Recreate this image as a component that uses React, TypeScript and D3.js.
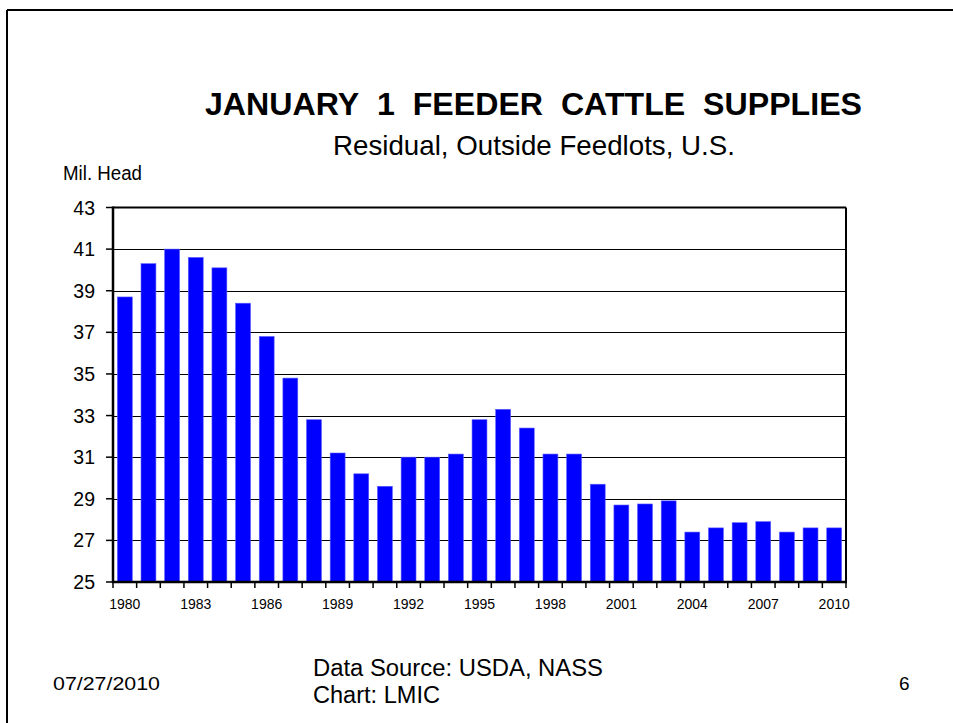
import React from "react";
import * as d3 from "d3";

const years: number[] = [
  1980, 1981, 1982, 1983, 1984, 1985, 1986, 1987, 1988, 1989, 1990,
  1991, 1992, 1993, 1994, 1995, 1996, 1997, 1998, 1999, 2000,
  2001, 2002, 2003, 2004, 2005, 2006, 2007, 2008, 2009, 2010,
];
const supplies: number[] = [
  38.7, 40.3, 41.0, 40.6, 40.1, 38.4, 36.8, 34.8, 32.8, 31.2, 30.2,
  29.6, 31.0, 31.0, 31.15, 32.8, 33.3, 32.4, 31.15, 31.15, 29.7,
  28.7, 28.75, 28.9, 27.4, 27.6, 27.85, 27.9, 27.4, 27.6, 27.6,
];
const yTicks: number[] = [25, 27, 29, 31, 33, 35, 37, 39, 41, 43];
const xLabelYears: number[] = [1980, 1983, 1986, 1989, 1992, 1995, 1998, 2001, 2004, 2007, 2010];

const title = "JANUARY\u00a0\u00a01\u00a0\u00a0FEEDER\u00a0\u00a0CATTLE\u00a0\u00a0SUPPLIES";
const subtitle = "Residual, Outside Feedlots, U.S.";
const yLabel = "Mil. Head";
const dateText = "07/27/2010";
const sourceLines = ["Data Source: USDA, NASS", "Chart: LMIC"];
const pageNum = "6";

const W = 953;
const H = 723;
const left = 113;
const right = 846;
const top = 207.5;
const bottom = 582;
const font = "Liberation Sans, Arial, sans-serif";

export default function App() {
  const x = d3
    .scaleBand<number>()
    .domain(years)
    .range([left, right])
    .paddingInner(0.37)
    .paddingOuter(0.185);
  const y = d3.scaleLinear().domain([25, 43]).range([bottom, top]);
  const step = x.step();
  const x0 = (x(years[0]) as number) - step * 0.185;
  const boundaries = d3.range(years.length + 1).map((i) => x0 + i * step);

  return (
    <svg
      width={W}
      height={H}
      style={{ position: "absolute", left: 0, top: 0, background: "#fff" }}
      fontFamily={font}
    >
      <rect x={0} y={0} width={W} height={H} fill="#fff" />
      {/* slide frame */}
      <line x1={7} y1={10} x2={W} y2={10} stroke="#000" strokeWidth={2} />
      <line x1={7} y1={10} x2={7} y2={H} stroke="#000" strokeWidth={2} />

      <text x={205} y={115} fontSize={32} fontWeight="bold" textLength={657} lengthAdjust="spacingAndGlyphs">
        {title}
      </text>
      <text x={333} y={155} fontSize={28} textLength={402} lengthAdjust="spacingAndGlyphs">
        {subtitle}
      </text>
      <text x={63} y={180} fontSize={19.5} textLength={79} lengthAdjust="spacingAndGlyphs">
        {yLabel}
      </text>

      {/* gridlines */}
      {yTicks
        .filter((t) => t !== 25 && t !== 43)
        .map((t) => (
          <line
            key={"g" + t}
            x1={left}
            x2={right}
            y1={Math.round(y(t)) + 0.5}
            y2={Math.round(y(t)) + 0.5}
            stroke="#000"
            strokeWidth={1}
          />
        ))}

      {/* bars */}
      {years.map((yr, i) => (
        <rect
          key={yr}
          x={x(yr) as number}
          y={y(supplies[i])}
          width={x.bandwidth()}
          height={y(25) - y(supplies[i])}
          fill="#0000ff"
          stroke="#5a5aff"
          strokeWidth={0.6}
        />
      ))}

      {/* plot frame */}
      <line x1={left} x2={right} y1={top} y2={top} stroke="#000" strokeWidth={2} />
      <line x1={right} x2={right} y1={top} y2={bottom} stroke="#000" strokeWidth={2} />
      <line x1={left} x2={left} y1={top - 1} y2={bottom + 1} stroke="#000" strokeWidth={2.5} />
      <line x1={left - 1} x2={right + 1} y1={bottom} y2={bottom} stroke="#000" strokeWidth={2.5} />

      {/* y ticks and labels */}
      {yTicks.map((t) => (
        <g key={"y" + t}>
          <line x1={left - 7} x2={left} y1={y(t)} y2={y(t)} stroke="#000" strokeWidth={1.5} />
          <text x={95} y={y(t) + 7} textAnchor="end" fontSize={19.5}>
            {t}
          </text>
        </g>
      ))}

      {/* x ticks */}
      {boundaries.map((bx, i) => (
        <line key={"xt" + i} x1={bx} x2={bx} y1={bottom} y2={bottom + 6} stroke="#000" strokeWidth={1.5} />
      ))}
      {xLabelYears.map((yr) => (
        <text
          key={"xl" + yr}
          x={(x(yr) as number) + x.bandwidth() / 2}
          y={609}
          textAnchor="middle"
          fontSize={14}
        >
          {yr}
        </text>
      ))}

      {/* footer */}
      <text x={53} y={690} fontSize={19} textLength={107} lengthAdjust="spacingAndGlyphs">
        {dateText}
      </text>
      <text x={313} y={676} fontSize={23.5} textLength={290} lengthAdjust="spacingAndGlyphs">
        {sourceLines[0]}
      </text>
      <text x={313} y={703} fontSize={23.5} textLength={127} lengthAdjust="spacingAndGlyphs">
        {sourceLines[1]}
      </text>
      <text x={899} y={690} fontSize={19}>
        {pageNum}
      </text>
    </svg>
  );
}
